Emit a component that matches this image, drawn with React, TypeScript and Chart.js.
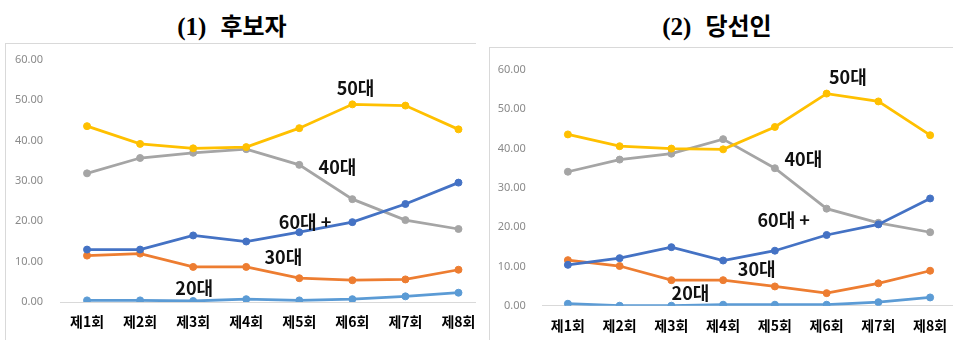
import React, { useEffect, useRef } from "react";
import { Chart, registerables } from "chart.js";

Chart.register(...registerables);

// ---------- data ----------
const categories = ["제1회", "제2회", "제3회", "제4회", "제5회", "제6회", "제7회", "제8회"];
const seriesNames = ["60대 +", "50대", "40대", "30대", "20대"];

// (1) 후보자
const cand60 = [13.0, 13.0, 16.5, 15.0, 17.3, 19.8, 24.3, 29.6];
const cand50 = [43.6, 39.2, 38.1, 38.4, 43.1, 49.0, 48.7, 42.8];
const cand40 = [31.9, 35.7, 37.0, 37.9, 34.0, 25.5, 20.3, 18.1];
const cand30 = [11.5, 12.0, 8.7, 8.7, 5.9, 5.4, 5.6, 8.0];
const cand20 = [0.4, 0.4, 0.25, 0.7, 0.4, 0.7, 1.4, 2.3];

// (2) 당선인
const win60 = [10.4, 12.1, 14.9, 11.5, 14.0, 18.0, 20.7, 27.3];
const win50 = [43.6, 40.6, 40.0, 39.8, 45.5, 54.0, 52.0, 43.4];
const win40 = [34.1, 37.2, 38.7, 42.4, 35.0, 24.7, 21.1, 18.7];
const win30 = [11.6, 10.1, 6.5, 6.5, 4.9, 3.2, 5.7, 8.9];
const win20 = [0.5, 0.0, 0.0, 0.25, 0.25, 0.25, 0.9, 2.1];

const yTicks = [0, 10, 20, 30, 40, 50, 60];

// ---------- styles ----------
const seriesColors = ["#4472C4", "#FFC000", "#A5A5A5", "#ED7D31", "#5B9BD5"];

// label anchors in data units (category index, value)
const candLabelAnchors = [
  { x: 4.11, y: 19.9 },
  { x: 5.06, y: 53.1 },
  { x: 4.72, y: 33.5 },
  { x: 3.7, y: 11.1 },
  { x: 2.02, y: 3.5 },
];
const winLabelAnchors = [
  { x: 4.17, y: 21.8 },
  { x: 5.41, y: 58.2 },
  { x: 4.55, y: 37.3 },
  { x: 3.65, y: 9.3 },
  { x: 2.37, y: 3.2 },
];

type PanelProps = {
  left: number;
  top: number;
  clipW: number;
  canvasW: number;
  canvasH: number;
  padTop: number;
  yAxisW: number;
  xAxisH: number;
  yTickPad: number;
  xTickPad: number;
  series: number[][];
  anchors: { x: number; y: number }[];
};

function Panel(p: PanelProps) {
  const ref = useRef<HTMLCanvasElement | null>(null);
  useEffect(() => {
    if (!ref.current) return;
    const labelPlugin = {
      id: "seriesLabels",
      afterDatasetsDraw(chart: any) {
        const ctx = chart.ctx;
        const xs = chart.scales.x;
        const ys = chart.scales.y;
        ctx.save();
        ctx.font = 'bold 18px "Noto Sans CJK KR"';
        ctx.fillStyle = "#111111";
        ctx.textAlign = "center";
        ctx.textBaseline = "middle";
        seriesNames.forEach((name, i) => {
          const a = p.anchors[i];
          ctx.fillText(name, xs.getPixelForValue(a.x), ys.getPixelForValue(a.y));
        });
        ctx.restore();
      },
    };
    const chart = new Chart(ref.current, {
      type: "line",
      data: {
        labels: categories,
        datasets: p.series.map((d, i) => ({
          label: seriesNames[i],
          data: d,
          borderColor: seriesColors[i],
          backgroundColor: seriesColors[i],
          pointBackgroundColor: seriesColors[i],
          pointBorderColor: seriesColors[i],
          borderWidth: 2.75,
          pointRadius: 3.5,
          pointBorderWidth: 1,
          tension: 0,
          fill: false,
        })),
      },
      options: {
        responsive: false,
        animation: false,
        devicePixelRatio: 1,
        layout: { autoPadding: false, padding: { top: p.padTop, left: 0, right: 0, bottom: 0 } },
        plugins: {
          legend: { display: false },
          tooltip: { enabled: false },
          title: { display: false },
        },
        scales: {
          x: {
            type: "category",
            offset: true,
            grid: { display: false, drawTicks: false },
            border: { display: true, color: "#d9d9d9", width: 1 },
            ticks: {
              padding: p.xTickPad,
              color: "#000000",
              font: { family: '"Noto Sans CJK KR"', size: 14, weight: "bold" },
              maxRotation: 0,
              autoSkip: false,
            },
            afterFit: (s: any) => {
              s.height = p.xAxisH;
              s.paddingLeft = 0;
              s.paddingRight = 0;
              s.paddingTop = 0;
              s.paddingBottom = 0;
            },
          },
          y: {
            min: 0,
            max: 60,
            grid: { display: false, drawTicks: false },
            border: { display: false },
            afterBuildTicks: (s: any) => {
              s.ticks = yTicks.map((v) => ({ value: v }));
            },
            ticks: {
              padding: p.yTickPad,
              color: "#8a8a8a",
              font: { family: '"Noto Sans"', size: 11 },
              callback: (v: any) => Number(v).toFixed(2),
            },
            afterFit: (s: any) => {
              s.width = p.yAxisW;
              s.paddingTop = 0;
              s.paddingBottom = 0;
              s.paddingLeft = 0;
              s.paddingRight = 0;
            },
          },
        },
      },
      plugins: [labelPlugin],
    } as any);
    return () => chart.destroy();
  }, []);
  return (
    <div
      style={{
        position: "absolute",
        left: p.left,
        top: p.top,
        width: p.clipW,
        height: p.canvasH,
        overflow: "hidden",
        borderLeft: "1px solid #d9d9d9",
        borderTop: "1px solid #d9d9d9",
        background: "#fff",
      }}
    >
      <canvas
        ref={ref}
        width={p.canvasW}
        height={p.canvasH}
        style={{ width: p.canvasW, height: p.canvasH, display: "block" }}
      />
    </div>
  );
}

function Title({ num, text, left, width }: { num: string; text: string; left: number; width: number }) {
  return (
    <div
      style={{
        position: "absolute",
        left,
        top: 8,
        width,
        textAlign: "center",
        fontSize: 24,
        lineHeight: "34px",
        color: "#000",
        whiteSpace: "nowrap",
      }}
    >
      <span style={{ fontFamily: '"Liberation Serif", serif', fontWeight: "bold", fontSize: 25 }}>{num}</span>
      <span style={{ display: "inline-block", width: 14 }} />
      <span style={{ fontFamily: '"Noto Sans CJK KR", sans-serif', fontWeight: "bold" }}>{text}</span>
    </div>
  );
}

export default function App() {
  return (
    <div style={{ position: "absolute", left: 0, top: 0, width: 953, height: 340, overflow: "hidden", background: "#fff" }}>
      <Title num="(1)" text="후보자" left={0} width={464} />
      <Title num="(2)" text="당선인" left={481} width={472} />
      <Panel
        left={5}
        top={43}
        clipW={470}
        canvasW={479}
        canvasH={296}
        padTop={16}
        yAxisW={54.5}
        xAxisH={38}
        yTickPad={17.5}
        xTickPad={11}
        series={[cand60, cand50, cand40, cand30, cand20]}
        anchors={candLabelAnchors}
      />
      <Panel
        left={489}
        top={47}
        clipW={470}
        canvasW={466}
        canvasH={292}
        padTop={22}
        yAxisW={52}
        xAxisH={34.3}
        yTickPad={16.2}
        xTickPad={12}
        series={[win60, win50, win40, win30, win20]}
        anchors={winLabelAnchors}
      />
    </div>
  );
}
